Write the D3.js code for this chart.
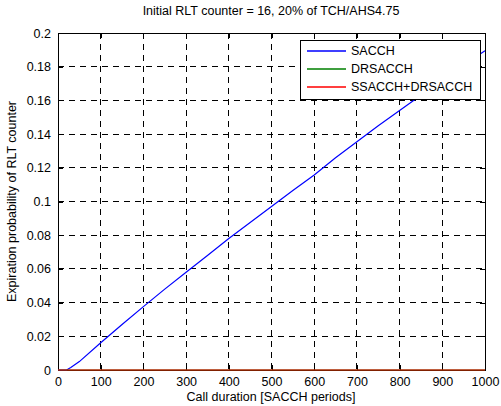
<!DOCTYPE html>
<html>
<head>
<meta charset="utf-8">
<script src="https://cdn.jsdelivr.net/npm/d3@7"></script>
<style>
  body { margin: 0; background: #fff; }
  svg { display: block; font-family: Arial, "Liberation Sans", sans-serif; }
</style>
</head>
<body>
<svg id="chart" width="501" height="406"></svg>
<script>
// ---- data ----
const callDuration = [0, 10, 20, 30, 50, 100, 150, 200, 250, 300, 350, 400, 450, 500, 550, 600, 650, 700, 750, 800, 850, 900, 950, 1000];
const sacch =        [0, 0, 0, 0.0015, 0.005, 0.0162, 0.027, 0.0376, 0.048, 0.058, 0.068, 0.078, 0.0875, 0.097, 0.1065, 0.1157, 0.126, 0.1355, 0.145, 0.154, 0.163, 0.172, 0.181, 0.1895];
const drsacch =      [0, 0, 0, 0, 0, 0, 0, 0, 0, 0, 0, 0, 0, 0, 0, 0, 0, 0, 0, 0, 0, 0, 0, 0];
const combined =     [0, 0, 0, 0, 0, 0, 0, 0, 0, 0, 0, 0, 0, 0, 0, 0, 0, 0, 0, 0, 0, 0, 0, 0];
const xTicks = [0, 100, 200, 300, 400, 500, 600, 700, 800, 900, 1000];
const yTicks = [0, 0.02, 0.04, 0.06, 0.08, 0.1, 0.12, 0.14, 0.16, 0.18, 0.2];
const seriesNames = ["SACCH", "DRSACCH", "SSACCH+DRSACCH"];
const seriesColors = ["#0000ff", "#008000", "#ff0000"];
const titleText = "Initial RLT counter = 16, 20% of TCH/AHS4.75";
const xLabel = "Call duration [SACCH periods]";
const yLabel = "Expiration probability of RLT counter";

// ---- layout ----
const svg = d3.select("#chart");
const L = 58, R = 485, T = 33, B = 370;
const FS = 12.5;
const x = d3.scaleLinear().domain([0, 1000]).range([L, R]);
const y = d3.scaleLinear().domain([0, 0.2]).range([B, T]);

// grid
const grid = svg.append("g");
xTicks.slice(1, -1).forEach(t => {
  grid.append("line").attr("x1", x(t)).attr("x2", x(t)).attr("y1", T).attr("y2", B)
    .attr("stroke", "#000").attr("stroke-width", 1).attr("stroke-dasharray", "6,5").attr("shape-rendering", "crispEdges");
});
yTicks.slice(1, -1).forEach(t => {
  grid.append("line").attr("x1", L).attr("x2", R).attr("y1", y(t)).attr("y2", y(t))
    .attr("stroke", "#000").attr("stroke-width", 1).attr("stroke-dasharray", "6,5").attr("shape-rendering", "crispEdges");
});

// axes (bottom/left with labels, top/right with only inward ticks)
const fmt = d => d3.format("")(+d.toFixed(2));
const xAxis = svg.append("g").attr("transform", `translate(0,${B})`)
  .call(d3.axisBottom(x).tickValues(xTicks).tickSize(-5).tickPadding(7).tickFormat(d => d));
const yAxis = svg.append("g").attr("transform", `translate(${L},0)`)
  .call(d3.axisLeft(y).tickValues(yTicks).tickSize(-5).tickPadding(7).tickFormat(fmt));
const xAxisTop = svg.append("g").attr("transform", `translate(0,${T})`)
  .call(d3.axisTop(x).tickValues(xTicks).tickSize(-5).tickFormat(""));
const yAxisRight = svg.append("g").attr("transform", `translate(${R},0)`)
  .call(d3.axisRight(y).tickValues(yTicks).tickSize(-5).tickFormat(""));
[xAxis, yAxis, xAxisTop, yAxisRight].forEach(g => {
  g.select(".domain").remove();
  g.selectAll("line").attr("stroke", "#000").attr("shape-rendering", "crispEdges");
  g.selectAll("text").attr("font-size", FS).attr("fill", "#000")
    .attr("font-family", "Arial, 'Liberation Sans', sans-serif");
});

// box
svg.append("rect").attr("x", L).attr("y", T).attr("width", R - L).attr("height", B - T)
  .attr("fill", "none").attr("stroke", "#000").attr("stroke-width", 1).attr("shape-rendering", "crispEdges");

// lines (drawn over the box, as in the reference)
const line = d3.line().x((d, i) => x(callDuration[i])).y(d => y(d));
[sacch, drsacch, combined].forEach((s, k) => {
  svg.append("path").datum(s).attr("d", line)
    .attr("fill", "none").attr("stroke", seriesColors[k]).attr("stroke-width", 1.2);
});

// legend
const lg = svg.append("g");
lg.append("rect").attr("x", 300).attr("y", 40).attr("width", 180).attr("height", 59)
  .attr("fill", "#fff").attr("stroke", "#000").attr("stroke-width", 1).attr("shape-rendering", "crispEdges");
const rows = [51, 69, 87];
seriesNames.forEach((n, i) => {
  lg.append("rect").attr("x", 307).attr("y", rows[i] - 0.75).attr("width", 39).attr("height", 1.5)
    .attr("fill", seriesColors[i]);
  lg.append("text").attr("x", 351).attr("y", rows[i]).attr("dy", "0.35em")
    .attr("font-size", FS).attr("fill", "#000").text(n);
});

// titles
svg.append("text").attr("x", 271).attr("y", 15).attr("text-anchor", "middle")
  .attr("font-size", FS).attr("fill", "#000").text(titleText);
svg.append("text").attr("x", 271).attr("y", 401).attr("text-anchor", "middle")
  .attr("font-size", FS).attr("fill", "#000").text(xLabel);
svg.append("text").attr("transform", `translate(16,${(T + B) / 2}) rotate(-90)`)
  .attr("text-anchor", "middle").attr("font-size", FS).attr("fill", "#000").text(yLabel);
</script>
</body>
</html>
